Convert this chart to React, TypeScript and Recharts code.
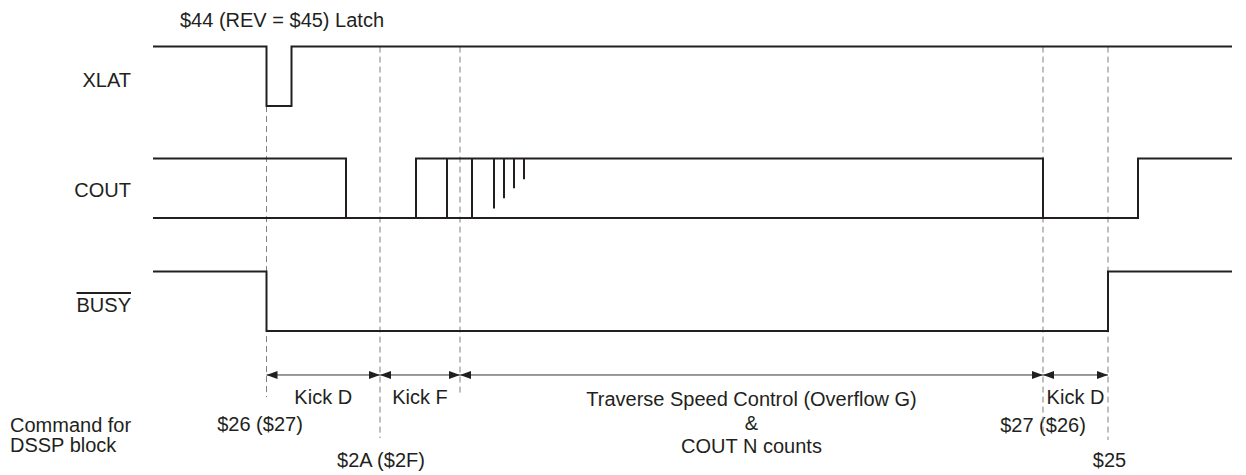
import { LineChart, Line, XAxis, YAxis, ReferenceLine } from 'recharts'

// time axis in arbitrary units, trace starts at t = 0
const T_MIN = -15.3
const T_MAX = 109.3
const T_END = 107.9

// one logic swing = 1 unit, lanes stacked on top of each other
const Y_MIN = -2.42
const Y_MAX = 5.563
const LANE = { busy: 0, cout: 1.9, xlat: 3.78 }

const W = 1246
const H = 475

const xlatTimes = [0, 11.35, 13.85, T_END]
const xlatLevels = [1, 0, 1]

const coutTimes = [0, 19.3, 26.3, 89.0, 98.5, T_END]
const coutLevels = [1, 0, 1, 0, 1]
const coutRailTimes = [0, 98.5]
const pulseTimes = [29.4, 31.9, 34.1, 35.1, 36.1, 37.1]
const pulseDepths = [0, 0, 0.16, 0.33, 0.5, 0.65]

const busyTimes = [0, 11.35, 95.5, T_END]
const busyLevels = [1, 0, 1]

const markerTimes = [11.35, 22.7, 30.7, 89.0, 95.5]
const phaseNames = ['Kick D', 'Kick F', 'Traverse Speed Control (Overflow G)', 'Kick D']
const commandNames = ['$26 ($27)', '$2A ($2F)', '$27 ($26)', '$25']
const commandMarkers = [0, 1, 3, 4]

// layout only
const guideTop = [3.78, 4.78, 4.78, 4.78, 4.78]
const guideBottom = [-1.11, -1.8, -1.08, -1.7, -1.83]
const ARROW_Y = -0.739
const commandShift = [-6.5, 1, 0, 1.5]
const commandBaseline = [431, 467, 432, 467]

const INK = '#231f20'
const FONT = '"Liberation Sans", Arial, sans-serif'

const steps = (times: number[], levels: number[], base: number) => {
  const pts: { t: number; v: number | null }[] = []
  levels.forEach((lv, i) => {
    pts.push({ t: times[i], v: base + lv })
    pts.push({ t: times[i + 1], v: base + lv })
  })
  return pts
}

const xlatData = steps(xlatTimes, xlatLevels, LANE.xlat)
const coutData = steps(coutTimes, coutLevels, LANE.cout)
const railData = steps(coutRailTimes, [0], LANE.cout)
const pulseData = pulseTimes.flatMap((t, i) => [
  { t, v: LANE.cout + 1 },
  { t, v: LANE.cout + pulseDepths[i] },
  { t, v: null },
])
const busyData = steps(busyTimes, busyLevels, LANE.busy)

const xOf = (t: number) => ((t - T_MIN) / (T_MAX - T_MIN)) * W

const ArrowShape = (p: any) => {
  const { x1, y1, x2, y2 } = p
  const L = 11
  const h = 4
  return (
    <g>
      <line x1={x1} y1={y1} x2={x2} y2={y2} stroke="#333" strokeWidth={1} />
      <polygon points={`${x1},${y1} ${x1 + L},${y1 - h} ${x1 + L},${y1 + h}`} fill={INK} />
      <polygon points={`${x2},${y2} ${x2 - L},${y2 - h} ${x2 - L},${y2 + h}`} fill={INK} />
    </g>
  )
}

const traceProps = {
  dataKey: 'v',
  stroke: INK,
  strokeWidth: 2,
  dot: false,
  activeDot: false,
  isAnimationActive: false,
  type: 'linear' as const,
}

export default function App() {
  const textStyle = { fontFamily: FONT, fontSize: 20, fill: INK }
  return (
    <div style={{ position: 'absolute', left: 0, top: 0 }}>
      <LineChart width={W} height={H} margin={{ top: 0, right: 0, bottom: 0, left: 0 }}>
        <XAxis dataKey="t" type="number" domain={[T_MIN, T_MAX]} hide />
        <YAxis type="number" domain={[Y_MIN, Y_MAX]} hide />

        {markerTimes.map((t, i) => (
          <ReferenceLine
            key={`g${i}`}
            segment={[
              { x: t, y: guideTop[i] },
              { x: t, y: guideBottom[i] },
            ]}
            stroke="#808080"
            strokeWidth={1}
            strokeDasharray="6 4"
          />
        ))}

        {phaseNames.map((_, i) => (
          <ReferenceLine
            key={`a${i}`}
            segment={[
              { x: markerTimes[i], y: ARROW_Y },
              { x: markerTimes[i + 1], y: ARROW_Y },
            ]}
            shape={ArrowShape}
          />
        ))}

        <Line data={xlatData} {...traceProps} />
        <Line data={railData} {...traceProps} />
        <Line data={coutData} {...traceProps} />
        <Line data={pulseData} {...traceProps} connectNulls={false} />
        <Line data={busyData} {...traceProps} />

        <text x={180} y={27} style={textStyle}>$44 (REV = $45) Latch</text>
        <text x={131} y={87} textAnchor="end" style={textStyle}>XLAT</text>
        <text x={131} y={197} textAnchor="end" style={textStyle}>COUT</text>
        <text x={131} y={312} textAnchor="end" style={{ ...textStyle, textDecoration: 'overline' }}>BUSY</text>
        <text x={10} y={432} style={textStyle}>Command for</text>
        <text x={10} y={452} style={textStyle}>DSSP block</text>

        {phaseNames.map((name, i) => (
          <text
            key={`p${i}`}
            x={(xOf(markerTimes[i]) + xOf(markerTimes[i + 1])) / 2}
            y={i === 2 ? 406 : 404}
            textAnchor="middle"
            style={textStyle}
          >
            {name}
          </text>
        ))}
        <text x={(xOf(markerTimes[2]) + xOf(markerTimes[3])) / 2} y={430} textAnchor="middle" style={textStyle}>&amp;</text>
        <text x={(xOf(markerTimes[2]) + xOf(markerTimes[3])) / 2} y={453} textAnchor="middle" style={textStyle}>COUT N counts</text>

        {commandNames.map((name, i) => (
          <text
            key={`c${i}`}
            x={xOf(markerTimes[commandMarkers[i]]) + commandShift[i]}
            y={commandBaseline[i]}
            textAnchor="middle"
            style={textStyle}
          >
            {name}
          </text>
        ))}
      </LineChart>
    </div>
  )
}
